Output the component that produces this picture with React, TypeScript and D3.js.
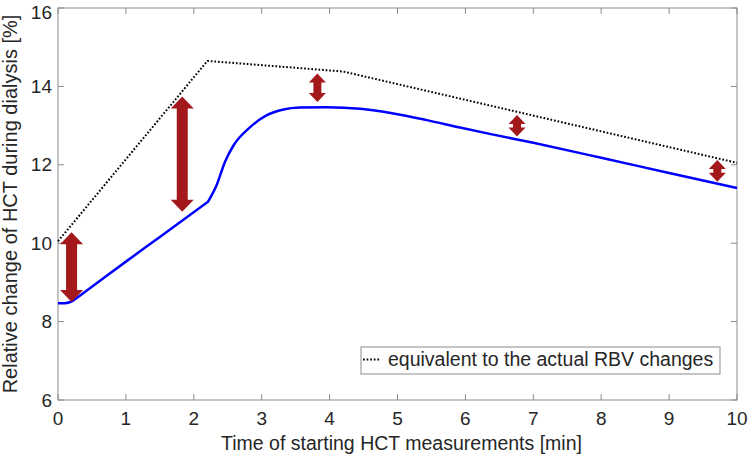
import React from "react";
import * as d3 from "d3";

const xTicks = [0, 1, 2, 3, 4, 5, 6, 7, 8, 9, 10];
const yTicks = [6, 8, 10, 12, 14, 16];

const dottedX = [0, 2.2, 4.2, 10];
const dottedY = [10.05, 14.65, 14.38, 12.05];

// blue curve: rising linear part up to the kink at 2.21, then the smooth part
const blueX1 = [0, 0.1, 0.18, 0.25, 0.4, 1, 1.5, 2.21];
const blueY1 = [8.47, 8.47, 8.5, 8.57, 8.76, 9.53, 10.16, 11.06];
const blueX2 = [2.21, 2.34, 2.46, 2.58, 2.83, 3.07, 3.32, 3.56, 3.96, 4.45, 4.94, 5.43, 5.92, 6.41, 7, 8, 9, 10];
const blueY2 = [11.06, 11.5, 12.08, 12.48, 12.96, 13.26, 13.41, 13.46, 13.47, 13.43, 13.31, 13.14, 12.95, 12.77, 12.56, 12.18, 11.79, 11.41];

const arrowX = [0.2, 1.83, 3.82, 6.76, 9.71];
const arrowTop = [10.28, 13.74, 14.33, 13.27, 12.12];
const arrowBottom = [8.5, 10.8, 13.6, 12.72, 11.57];

const legendLabel = "equivalent to the actual RBV changes";
const xLabel = "Time of starting HCT measurements [min]";
const yLabel = "Relative change of HCT during dialysis [%]";

const W = 749;
const H = 457;
const left = 58, right = 737, top = 8, bottom = 400;
const FONT = "'Liberation Sans', Arial, sans-serif";
const TEXT = "#262626";
const AXIS = "#8c8c8c";
const RED = "#a3181b";

export default function App() {
  const x = d3.scaleLinear().domain([0, 10]).range([left, right]);
  const y = d3.scaleLinear().domain([6, 16]).range([bottom, top]);

  const dotted = d3.line<number>().x((d) => x(dottedX[d])).y((d) => y(dottedY[d]));
  const blue1 = d3
    .line<number>()
    .x((d) => x(blueX1[d]))
    .y((d) => y(blueY1[d]))
    .curve(d3.curveMonotoneX);
  const blue2 = d3
    .line<number>()
    .x((d) => x(blueX2[d]))
    .y((d) => y(blueY2[d]))
    .curve(d3.curveMonotoneX);

  const tickLen = 6;

  const arrowPath = (i: number) => {
    const cx = x(arrowX[i]);
    const yt = y(arrowTop[i]);
    const yb = y(arrowBottom[i]);
    const big = yb - yt > 40;
    const hw = big ? 11.5 : 8.5;
    const sw = big ? 5.5 : 4;
    const hh = big ? 12 : 9;
    return [
      `M${cx},${yt}`,
      `L${cx + hw},${yt + hh}`,
      `L${cx + sw},${yt + hh}`,
      `L${cx + sw},${yb - hh}`,
      `L${cx + hw},${yb - hh}`,
      `L${cx},${yb}`,
      `L${cx - hw},${yb - hh}`,
      `L${cx - sw},${yb - hh}`,
      `L${cx - sw},${yt + hh}`,
      `L${cx - hw},${yt + hh}`,
      "Z",
    ].join(" ");
  };

  const d1 = blue1(blueX1.map((_, i) => i)) || "";
  const d2 = blue2(blueX2.map((_, i) => i)) || "";

  return (
    <svg
      width={W}
      height={H}
      style={{ position: "absolute", left: 0, top: 0, background: "#fff" }}
      fontFamily={FONT}
    >
      {/* axes box */}
      <rect x={left} y={top} width={right - left} height={bottom - top} fill="none" stroke={AXIS} strokeWidth={1} />
      {xTicks.map((t) => (
        <g key={"xt" + t}>
          <line x1={x(t)} x2={x(t)} y1={bottom} y2={bottom - tickLen} stroke={AXIS} />
          <line x1={x(t)} x2={x(t)} y1={top} y2={top + tickLen} stroke={AXIS} />
          <text x={x(t)} y={425} textAnchor="middle" fontSize={19} fill={TEXT}>
            {t}
          </text>
        </g>
      ))}
      {yTicks.map((t) => (
        <g key={"yt" + t}>
          <line x1={left} x2={left + tickLen} y1={y(t)} y2={y(t)} stroke={AXIS} />
          <line x1={right} x2={right - tickLen} y1={y(t)} y2={y(t)} stroke={AXIS} />
          <text x={52} y={Math.max(y(t), 12)} dy="0.35em" textAnchor="end" fontSize={19} fill={TEXT}>
            {t}
          </text>
        </g>
      ))}

      {/* data */}
      <path
        d={dotted(dottedX.map((_, i) => i)) || ""}
        fill="none"
        stroke="#000"
        strokeWidth={2}
        strokeDasharray="1.7,1.9"
      />
      <path d={d1 + d2.replace(/^M/, "L")} fill="none" stroke="#0000ff" strokeWidth={2.5} strokeLinejoin="miter" />
      {arrowX.map((_, i) => (
        <path key={"a" + i} d={arrowPath(i)} fill={RED} />
      ))}

      {/* legend */}
      <rect x={361} y={347} width={359} height={27} fill="#fff" stroke={AXIS} strokeWidth={1} />
      <line x1={363} x2={380} y1={359.5} y2={359.5} stroke="#000" strokeWidth={2} strokeDasharray="1.7,1.9" />
      <text x={388} y={366} fontSize={19.5} fill={TEXT}>
        {legendLabel}
      </text>

      {/* labels */}
      <text x={(left + right) / 2 + 4} y={450} textAnchor="middle" fontSize={19.5} fill={TEXT}>
        {xLabel}
      </text>
      <text
        transform={`translate(17,${(top + bottom) / 2}) rotate(-90)`}
        textAnchor="middle"
        fontSize={20}
        fill={TEXT}
      >
        {yLabel}
      </text>
    </svg>
  );
}
